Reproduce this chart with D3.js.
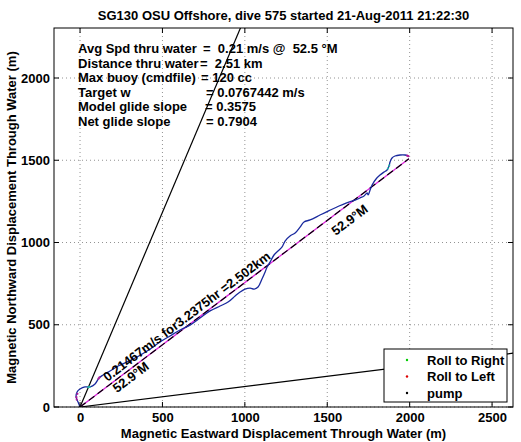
<!DOCTYPE html>
<html>
<head>
<meta charset="utf-8">
<script src="https://cdn.jsdelivr.net/npm/d3@7"></script>
<style>
  html, body { margin: 0; padding: 0; background: #fff; }
  svg text { font-family: "Liberation Sans", Arial, Helvetica, sans-serif; font-weight: bold; }
</style>
</head>
<body>
<svg id="chart" width="521" height="442"></svg>
<script>
// ---------- data ----------
const titleText = "SG130 OSU Offshore, dive 575 started 21-Aug-2011 21:22:30";
const xLabel = "Magnetic Eastward Displacement Through Water (m)";
const yLabel = "Magnetic Northward Displacement Through Water (m)";
const xTicks = [0, 500, 1000, 1500, 2000, 2500];
const yTicks = [0, 500, 1000, 1500, 2000];
const xDomain = [-158, 2627];
const yDomain = [0, 2304];

// glider track through water (east m, north m)
const trackEast  = [0,-12,-24,-18,0,30,61,91,115,140,182,231,285,346,407,485,546,607,667,728,789,850,898,941,971,1001,1032,1056,1080,1104,1123,1135,1153,1177,1201,1226,1244,1274,1305,1335,1359,1396,1456,1505,1559,1614,1669,1699,1723,1742,1748,1760,1772,1796,1820,1845,1863,1875,1881,1893,1911,1942,1972,1990];
const trackNorth = [0,30,61,91,109,122,122,140,176,195,219,249,274,304,340,395,432,468,498,541,584,614,638,675,699,717,723,717,729,778,821,851,881,924,948,973,1009,1040,1058,1094,1125,1137,1167,1191,1216,1240,1258,1271,1283,1301,1289,1319,1350,1386,1410,1429,1441,1465,1489,1514,1526,1532,1532,1526];

// roll / pump markers
const rollRightEast  = [50, 58, 1868, 1876];
const rollRightNorth = [120, 122, 1450, 1468];
const rollLeftEast   = [-20, -22, -16, 112, 118, 1985, 1992];
const rollLeftNorth  = [45, 60, 80, 172, 180, 1528, 1525];
const pumpEast  = [0];
const pumpNorth = [0];

// summary
const netHeading = 52.9;   // deg M
const netDist = 2502;      // m
const sideOffset = 30;     // deg, +/- lines
const sideLength = 3200;   // m

const infoLabels = ["Avg Spd thru water", "Distance thru water", "Max buoy (cmdfile)", "Target w", "Model glide slope", "Net glide slope"];
const infoValues = ["=  0.21 m/s @  52.5 °M", "=  2.51 km", "= 120 cc", "= 0.0767442 m/s", "= 0.3575", "= 0.7904"];
const infoValueX = [203, 200, 201, 206, 205, 206];

const legendNames = ["Roll to Right", "Roll to Left", "pump"];
const legendColors = ["#00cc00", "#dd0000", "#000000"];

// ---------- layout ----------
const FS = 13;
const svg = d3.select("#chart");
const L = 54, R = 513, T = 28, B = 407;
const x = d3.scaleLinear().domain(xDomain).range([L, R]);
const y = d3.scaleLinear().domain(yDomain).range([B, T]);

svg.append("rect").attr("width", 521).attr("height", 442).attr("fill", "#fff");

svg.append("defs").append("clipPath").attr("id", "clip")
  .append("rect").attr("x", L).attr("y", T).attr("width", R - L).attr("height", B - T);

// grid
const grid = svg.append("g");
grid.selectAll(".gx").data(xTicks).join("line")
  .attr("x1", d => x(d)).attr("x2", d => x(d)).attr("y1", T).attr("y2", B)
  .attr("stroke", "#777").attr("stroke-width", 0.8).attr("stroke-dasharray", "1,3");
grid.selectAll(".gy").data(yTicks).join("line")
  .attr("y1", d => y(d)).attr("y2", d => y(d)).attr("x1", L).attr("x2", R)
  .attr("stroke", "#777").attr("stroke-width", 0.8).attr("stroke-dasharray", "1,3");

const plot = svg.append("g").attr("clip-path", "url(#clip)");
const rad = Math.PI / 180;
const lineGen = d3.line().x(d => x(d[0])).y(d => y(d[1]));

// +/- side lines
[netHeading - sideOffset, netHeading + sideOffset].forEach(h => {
  plot.append("path").datum([[0, 0], [sideLength * Math.sin(h * rad), sideLength * Math.cos(h * rad)]])
    .attr("d", lineGen).attr("stroke", "#000").attr("stroke-width", 1.2).attr("fill", "none");
});

// net line (magenta) with black dashed overlay
const netEnd = [[0, 0], [netDist * Math.sin(netHeading * rad), netDist * Math.cos(netHeading * rad)]];
plot.append("path").datum(netEnd)
  .attr("d", lineGen).attr("stroke", "#dd22dd").attr("stroke-width", 1.3).attr("fill", "none");
plot.append("path").datum(netEnd)
  .attr("d", lineGen).attr("stroke", "#000").attr("stroke-width", 1.2).attr("stroke-dasharray", "7,4").attr("fill", "none");

// track
const track = trackEast.map((e, i) => [e, trackNorth[i]]);
plot.append("path").datum(track)
  .attr("d", d3.line().x(d => x(d[0])).y(d => y(d[1])).curve(d3.curveCatmullRom))
  .attr("stroke", "#1a2a9e").attr("stroke-width", 1.3).attr("fill", "none");

function dots(es, ns, color) {
  plot.selectAll(null).data(es.map((e, i) => [e, ns[i]])).join("circle")
    .attr("cx", d => x(d[0])).attr("cy", d => y(d[1])).attr("r", 1.1).attr("fill", color);
}
dots(rollRightEast, rollRightNorth, "#22bbaa");
dots(rollLeftEast, rollLeftNorth, "#b01a9a");
dots(pumpEast, pumpNorth, "#000");

// rotated labels along net line
const dx = x(Math.sin(netHeading * rad)) - x(0);
const dy = y(Math.cos(netHeading * rad)) - y(0);
const ang = Math.atan2(dy, dx) / rad;
function rotLabel(ex, ny, txt) {
  svg.append("text").attr("transform", `translate(${x(ex)},${y(ny)}) rotate(${ang})`)
    .attr("font-size", FS).attr("fill", "#000").text(txt);
}
rotLabel(166, 152, "0.21467m/s for3.2375hr =2.502km");
rotLabel(224, 84, "52.9°M");
rotLabel(1552, 1040, "52.9°M");

// info text
infoLabels.forEach((lab, i) => {
  const yy = 53 + i * 14.6;
  svg.append("text").attr("x", 78).attr("y", yy).attr("font-size", FS).text(lab);
  svg.append("text").attr("x", infoValueX[i]).attr("y", yy).attr("font-size", FS)
    .style("white-space", "pre").attr("xml:space", "preserve").text(infoValues[i]);
});

// axes box and ticks
svg.append("rect").attr("x", L).attr("y", T).attr("width", R - L).attr("height", B - T)
  .attr("fill", "none").attr("stroke", "#000").attr("stroke-width", 1);
const tk = 5;
const ticks = svg.append("g").attr("stroke", "#000").attr("stroke-width", 1);
xTicks.forEach(t => {
  ticks.append("line").attr("x1", x(t)).attr("x2", x(t)).attr("y1", B).attr("y2", B - tk);
  ticks.append("line").attr("x1", x(t)).attr("x2", x(t)).attr("y1", T).attr("y2", T + tk);
});
yTicks.forEach(t => {
  ticks.append("line").attr("y1", y(t)).attr("y2", y(t)).attr("x1", L).attr("x2", L + tk);
  ticks.append("line").attr("y1", y(t)).attr("y2", y(t)).attr("x1", R).attr("x2", R - tk);
});

// tick labels via d3 axes (lines hidden)
const xAxis = svg.append("g").attr("transform", `translate(0,${B})`)
  .call(d3.axisBottom(x).tickValues(xTicks).tickSize(0).tickPadding(6).tickFormat(d3.format("d")));
const yAxis = svg.append("g").attr("transform", `translate(${L},0)`)
  .call(d3.axisLeft(y).tickValues(yTicks).tickSize(0).tickPadding(4).tickFormat(d3.format("d")));
[xAxis, yAxis].forEach(a => {
  a.select(".domain").remove();
  a.selectAll("text").attr("font-size", FS).attr("font-family", "Liberation Sans, Arial, sans-serif")
    .attr("font-weight", "bold").attr("fill", "#000");
});

// titles
svg.append("text").attr("x", (L + R) / 2).attr("y", 20).attr("text-anchor", "middle")
  .attr("font-size", FS).text(titleText);
svg.append("text").attr("x", (L + R) / 2).attr("y", 438).attr("text-anchor", "middle")
  .attr("font-size", FS).text(xLabel);
svg.append("text").attr("transform", `translate(16,${(T + B) / 2}) rotate(-90)`).attr("text-anchor", "middle")
  .attr("font-size", FS).text(yLabel);

// legend
const lg = svg.append("g");
lg.append("rect").attr("x", 384).attr("y", 349).attr("width", 123).attr("height", 53)
  .attr("fill", "#fff").attr("stroke", "#000").attr("stroke-width", 1);
legendNames.forEach((n, i) => {
  const cy = 360 + i * 16.5;
  lg.append("circle").attr("cx", 407).attr("cy", cy).attr("r", 1.2).attr("fill", legendColors[i]);
  lg.append("text").attr("x", 427).attr("y", cy + 4.5).attr("font-size", FS).text(n);
});
</script>
</body>
</html>
